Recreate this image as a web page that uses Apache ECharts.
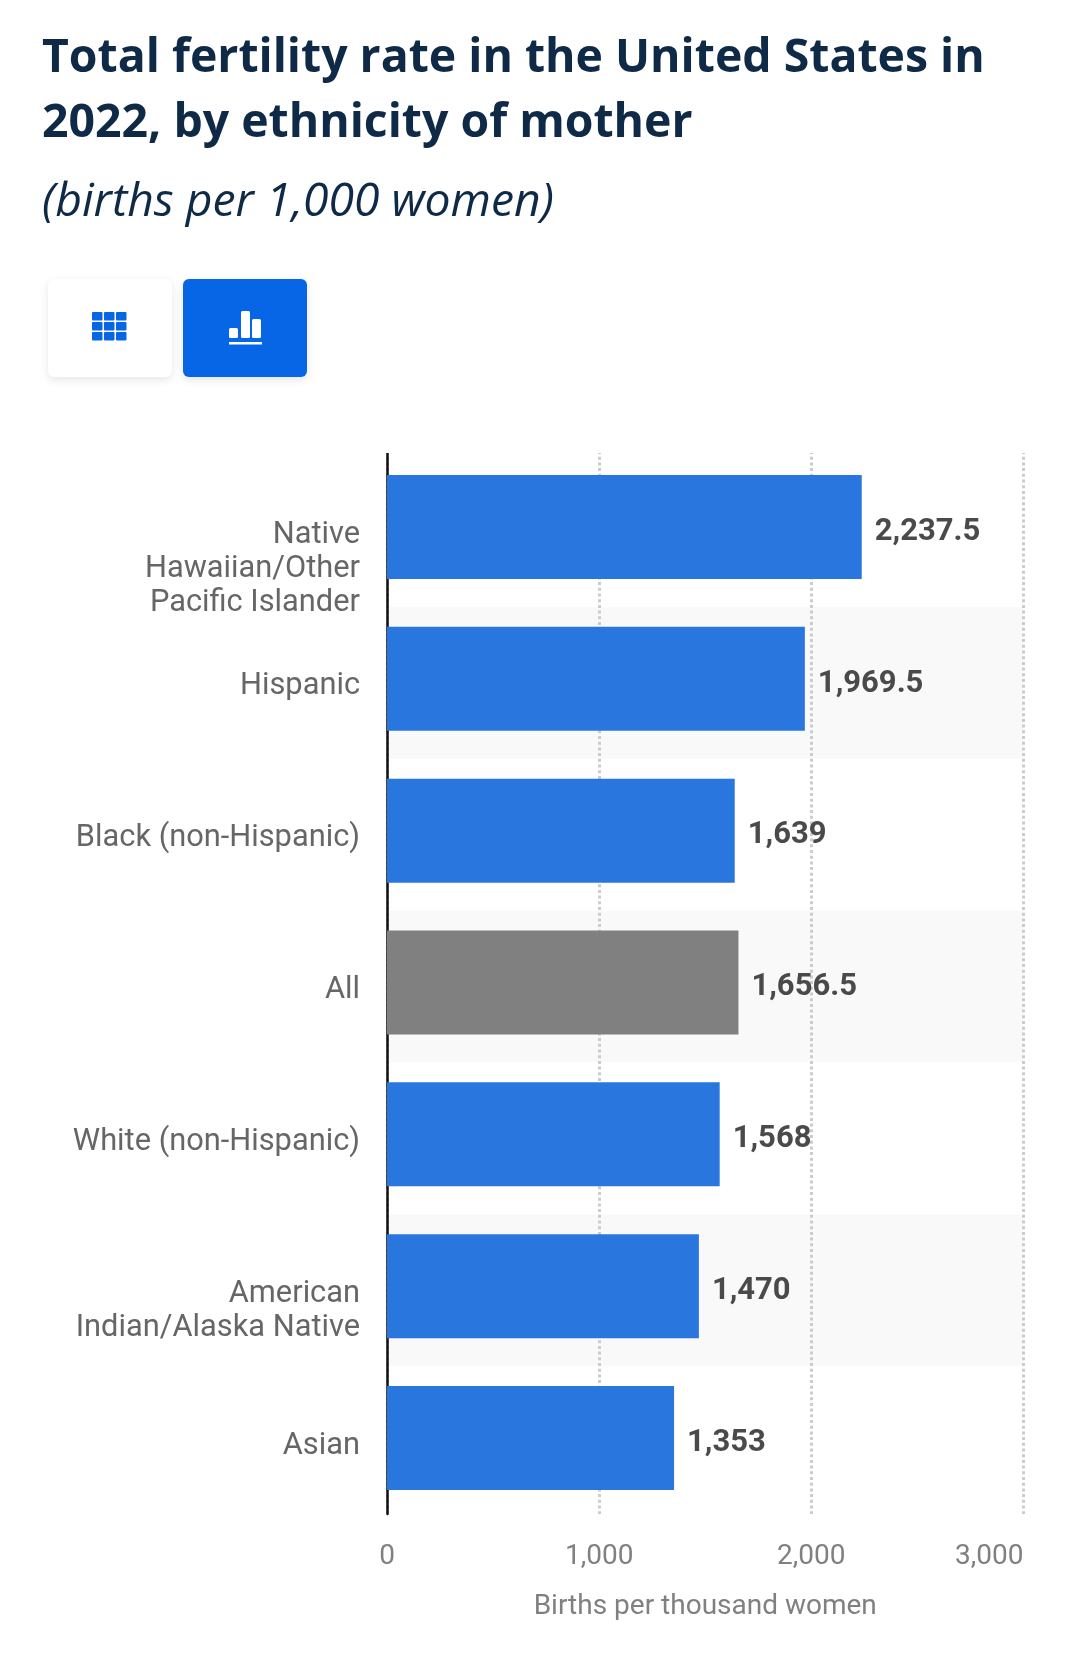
<!DOCTYPE html>
<html>
    <head>
        <meta charset="utf-8">
        <script src="https://cdn.jsdelivr.net/npm/echarts@6/dist/echarts.min.js"></script>
        <style>
            html, body { margin: 0; padding: 0; background: #fff; }
            #main { width: 1080px; height: 1663px; }
        </style>
    </head>
    <body>
        <div id="main"></div>
        <script>

        var categories = ['Native\nHawaiian/Other\nPacific Islander', 'Hispanic', 'Black (non-Hispanic)', 'All',
            'White (non-Hispanic)', 'American\nIndian/Alaska Native', 'Asian'];
        var values = [2237.5, 1969.5, 1639, 1656.5, 1568, 1470, 1353];
        var labels = ['2,237.5', '1,969.5', '1,639', '1,656.5', '1,568', '1,470', '1,353'];
        var highlighted = 'All';
        var xTicks = ['0', '1,000', '2,000', '3,000'];

        var chart = echarts.init(document.getElementById('main'));

        var buttonShadow = { shadowBlur: 10, shadowColor: 'rgba(0,0,0,0.10)', shadowOffsetY: 3 };

        // table / chart toggle icons
        var iconParts = [
            { type: 'rect', shape: { x: 48, y: 279, width: 124, height: 98, r: 6 }, style: Object.assign({ fill: '#fff' }, buttonShadow) },
            { type: 'rect', shape: { x: 183, y: 279, width: 124, height: 98, r: 6 }, style: Object.assign({ fill: '#0666e5' }, buttonShadow) }
        ];
        [92, 104, 116].forEach(function (x) {
            [312, 322, 332].forEach(function (y) {
                iconParts.push({ type: 'rect', shape: { x: x, y: y, width: 10.5, height: 8.5, r: 1 }, style: { fill: '#0666e5' } });
            });
        });
        [[229, 328, 338], [241, 311, 338], [252, 319, 338]].forEach(function (b) {
            iconParts.push({ type: 'rect', shape: { x: b[0], y: b[1], width: 9, height: b[2] - b[1], r: 1.5 }, style: { fill: '#fff' } });
        });
        iconParts.push({ type: 'rect', shape: { x: 229, y: 342, width: 33, height: 2.5 }, style: { fill: '#fff' } });
        // the axis and grid lines start a little below the top of the first row
        iconParts.push({ type: 'rect', z: 10, shape: { x: 380, y: 445, width: 660, height: 8 }, style: { fill: '#fff' } });

        chart.setOption({
            backgroundColor: '#fff',
            animation: false,
            title: [{
                text: 'Total fertility rate in the United States in\n2022, by ethnicity of mother',
                left: 37,
                top: 21,
                textStyle: {
                    fontFamily: 'Open Sans',
                    fontWeight: 700,
                    fontSize: 46.4,
                    lineHeight: 65,
                    color: '#0f2a47'
                }
            }, {
                text: '(births per 1,000 women)',
                left: 37,
                top: 175,
                textStyle: {
                    fontFamily: 'Open Sans',
                    fontStyle: 'italic',
                    fontWeight: 400,
                    fontSize: 46.3,
                    color: '#0f2a47'
                }
            }],
            graphic: { elements: iconParts },
            grid: [
                { left: 387, top: 455.1, width: 636.5, height: 1063 },
                { left: 387, top: 451, width: 636.5, height: 1063 }
            ],
            xAxis: [{
                gridIndex: 0,
                type: 'value',
                min: 0,
                max: 3000,
                show: false
            }, {
                gridIndex: 1,
                type: 'value',
                min: 0,
                max: 3000,
                interval: 1000,
                axisLine: { show: false },
                axisTick: { show: false },
                axisLabel: {
                    fontFamily: 'Roboto',
                    fontSize: 28,
                    color: '#808080',
                    margin: 29,
                    alignMaxLabel: 'right',
                    formatter: function (v) { return xTicks[v / 1000]; }
                },
                splitLine: { show: true, lineStyle: { color: '#cccccc', type: [3, 2.7], width: 3 } },
                name: 'Births per thousand women',
                nameLocation: 'middle',
                nameGap: 79,
                nameTextStyle: { fontFamily: 'Roboto', fontSize: 28, color: '#808080' }
            }],
            yAxis: [{
                gridIndex: 0,
                type: 'category',
                inverse: true,
                data: categories,
                axisLine: { show: false },
                axisTick: { show: false },
                axisLabel: { show: false },
                splitArea: { show: true, areaStyle: { color: ['#ffffff', '#f9f9f9'] } }
            }, {
                gridIndex: 1,
                type: 'category',
                inverse: true,
                data: categories,
                axisLine: { show: true, lineStyle: { color: '#111', width: 2.5 } },
                axisTick: { show: false },
                axisLabel: {
                    interval: 0,
                    fontFamily: 'Roboto',
                    fontSize: 30.8,
                    lineHeight: 34,
                    color: '#666',
                    margin: 27,
                    align: 'right',
                    verticalAlign: 'top',
                    padding: [-9, 0, 0, 0]
                }
            }],
            series: [{
                type: 'bar',
                xAxisIndex: 0,
                yAxisIndex: 0,
                data: []
            }, {
                type: 'bar',
                xAxisIndex: 1,
                yAxisIndex: 1,
                barWidth: 104,
                data: values.map(function (v, i) {
                    return {
                        value: v,
                        itemStyle: { color: categories[i] === highlighted ? '#808080' : '#2976de' }
                    };
                }),
                label: {
                    show: true,
                    position: 'right',
                    distance: 13,
                    offset: [0, 5],
                    fontFamily: 'Roboto',
                    fontWeight: 700,
                    fontSize: 31,
                    color: '#4a4a4a',
                    formatter: function (p) { return labels[p.dataIndex]; }
                }
            }]
        });

        window.onresize = chart.resize;

        </script>
    </body>
</html>
